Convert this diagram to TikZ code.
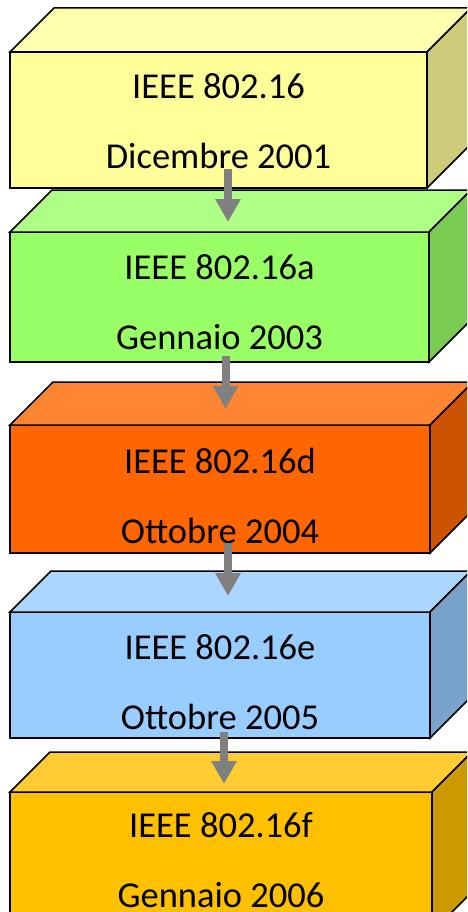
\documentclass[tikz,border=0pt]{standalone}
\usepackage{fontspec}
\setmainfont{Carlito}
\usetikzlibrary{calc, positioning, arrows.meta}

\definecolor{boxA}{HTML}{FFFF99}
\definecolor{boxB}{HTML}{99FF66}
\definecolor{boxC}{HTML}{FF6600}
\definecolor{boxD}{HTML}{99CCFF}
\definecolor{boxE}{HTML}{FFC000}

\begin{document}
\begin{tikzpicture}[x=1pt, y=1pt, line width=1.5pt,
    front/.style={rectangle, draw, outer sep=0pt, anchor=north west},
    txt/.style={inner sep=0pt, align=center, font=\fontsize{36.5}{70}\selectfont},
    flow/.style={draw=gray, line width=8pt, -{Triangle[width=24pt, length=23pt]}}]
  \clip (0, 0) rectangle (467, -912);
  \node (f1) [front, fill=boxA, minimum width=417pt, minimum height=136pt] at (10, -52) {};
  \node (f2) [front, fill=boxB, minimum width=419pt, minimum height=130pt] at (10, -232) {};
  \node (f3) [front, fill=boxC, minimum width=420pt, minimum height=128pt] at (10, -425) {};
  \node (f4) [front, fill=boxD, minimum width=420pt, minimum height=126pt] at (10, -612) {};
  \node (f5) [front, fill=boxE, minimum width=422pt, minimum height=140pt] at (10, -792) {};
  \foreach \f/\c/\d in {f1/boxA/44, f2/boxB/42, f3/boxC/43, f4/boxD/41, f5/boxE/40} {
    \draw[fill=\c!80!white] (\f.north west) -- ++(\d, \d) -- ($(\f.north east)+(\d, \d)$) -- (\f.north east) -- cycle;
    \draw[fill=\c!80!black] (\f.north east) -- ++(\d, \d) -- ($(\f.south east)+(\d, \d)$) -- (\f.south east) -- cycle;
  }
  \node (t1) [txt, below=21pt of f1.north] {IEEE 802.16\\Dicembre 2001};
  \node (t2) [txt, below=22pt of f2.north] {IEEE 802.16a\\Gennaio 2003};
  \node (t3) [txt, below=22pt of f3.north] {IEEE 802.16d\\Ottobre 2004};
  \node (t4) [txt, below=22pt of f4.north] {IEEE 802.16e\\Ottobre 2005};
  \node (t5) [txt, below=20pt of f5.north] {IEEE 802.16f\\Gennaio 2006};
  \draw[flow] ([xshift=9.5pt, yshift=19pt]f1.south) -- ([xshift=8.5pt, yshift=10pt]f2.north);
  \draw[flow] ([xshift=6pt, yshift=6pt]f2.south) -- ([xshift=5.5pt, yshift=16pt]f3.north);
  \draw[flow] ([xshift=8pt, yshift=10pt]f3.south) -- ([xshift=8pt, yshift=16pt]f4.north);
  \draw[flow] ([xshift=4pt, yshift=6pt]f4.south) -- ([xshift=3pt, yshift=8pt]f5.north);
\end{tikzpicture}
\end{document}
